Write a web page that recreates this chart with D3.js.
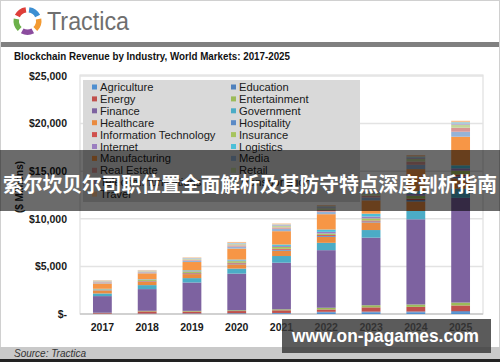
<!DOCTYPE html>
<html>
<head>
<meta charset="utf-8">
<script src="https://cdnjs.cloudflare.com/ajax/libs/d3/7.8.5/d3.min.js"></script>
<style>
	body { margin: 0; background: #fff; }
	svg { display: block; font-family: "Liberation Sans", Arial, sans-serif; }
</style>
</head>
<body>
<svg id="chart" width="500" height="362"></svg>
<script>
var years = ["2017", "2018", "2019", "2020", "2021", "2022", "2023", "2024", "2025"];

var industries = ["Agriculture", "Education", "Energy", "Entertainment", "Finance", "Government",
	"Healthcare", "Hospitality", "Information Technology", "Insurance", "Internet", "Logistics",
	"Manufacturing", "Media", "Real Estate", "Retail", "Telecommunications", "Transportation", "Travel"];

var industryColors = ["#4f8fd0", "#4f81bd", "#c0504d", "#9bbb59", "#7d62a0", "#4bacc6",
	"#ea8b40", "#5b8ac6", "#d0504d", "#a6c45e", "#9b7ec0", "#4cc0d8",
	"#f79646", "#95b3d7", "#d99694", "#c3d69b", "#b3a2c7", "#93cddd", "#fac090"];

// revenue, $ millions, 2017..2025
var agriculture   = [20, 30, 40, 50, 70, 150, 160, 170, 200];
var education     = [10, 15, 20, 30, 40, 80, 90, 90, 100];
var energy        = [70, 230, 200, 230, 280, 250, 450, 490, 600];
var entertainment = [30, 60, 70, 80, 100, 175, 220, 250, 300];
var finance       = [1750, 2280, 2980, 3850, 4900, 6050, 7100, 8950, 11000];
var government    = [280, 420, 460, 530, 700, 770, 800, 870, 950];
var healthcare    = [280, 350, 420, 450, 560, 630, 800, 1000, 1100];
var hospitality   = [30, 40, 60, 80, 100, 100, 100, 150, 200];
var infoTech      = [30, 40, 60, 80, 100, 100, 100, 150, 200];
var insurance     = [80, 100, 150, 170, 200, 150, 220, 300, 400];
var internet      = [30, 30, 50, 70, 100, 175, 200, 200, 250];
var logistics     = [40, 50, 80, 100, 150, 245, 300, 300, 320];
var manufacturing = [560, 630, 870, 1150, 1400, 1610, 1400, 2300, 3000];
var media         = [100, 100, 150, 200, 250, 245, 300, 450, 525];
var realEstate    = [70, 70, 100, 140, 150, 200, 200, 350, 420];
var retail        = [60, 60, 90, 120, 150, 180, 180, 280, 315];
var telecom       = [40, 40, 50, 70, 80, 100, 100, 120, 120];
var transport     = [30, 30, 40, 60, 80, 100, 100, 120, 150];
var travel        = [50, 50, 60, 110, 100, 120, 120, 150, 150];

var seriesValues = [agriculture, education, energy, entertainment, finance, government,
	healthcare, hospitality, infoTech, insurance, internet, logistics,
	manufacturing, media, realEstate, retail, telecom, transport, travel];

var yTicks = [0, 5000, 10000, 15000, 20000, 25000];

var svg = d3.select("#chart");

function translate(x, y)
{
	return "translate(" + x + "," + y + ")";
}

// frame
svg.append("rect")
	.attr("x", 0.5).attr("y", 0.5)
	.attr("width", 499).attr("height", 361)
	.attr("fill", "#fff")
	.attr("stroke", "#d0d0d0");

// logo
var logoColors = ["#3d8fd2", "#f39a32", "#8b4c9e", "#6cb04a", "#de3f3a"];
var arc = d3.arc().innerRadius(8.5).outerRadius(14);
svg.append("g")
	.attr("transform", translate(27.5, 21))
	.selectAll("path")
	.data(logoColors)
	.enter().append("path")
		.attr("d", function(d, i){
			var a0 = (36 + i * 72 - 28) * Math.PI / 180;
			return arc({startAngle: a0, endAngle: a0 + 56 * Math.PI / 180});
		})
		.attr("fill", function(d){return d;});

svg.append("text")
	.attr("x", 47).attr("y", 30)
	.attr("font-size", 25)
	.attr("fill", "#6f6f6f")
	.attr("textLength", 82)
	.attr("lengthAdjust", "spacingAndGlyphs")
	.text("Tractica");

svg.append("rect")
	.attr("x", 1).attr("y", 42)
	.attr("width", 498).attr("height", 5)
	.attr("fill", "#808080");

svg.append("text")
	.attr("x", 14).attr("y", 60)
	.attr("font-size", 11)
	.attr("font-weight", "bold")
	.attr("fill", "#111")
	.attr("textLength", 276)
	.attr("lengthAdjust", "spacingAndGlyphs")
	.text("Blockchain Revenue by Industry, World Markets: 2017-2025");

// plot
var plot = {left: 80, right: 483, top: 76, bottom: 314};

var x = d3.scaleBand()
	.domain(years)
	.range([plot.left, plot.right])
	.paddingInner(0.58)
	.paddingOuter(0.29);

var y = d3.scaleLinear()
	.domain([0, 25000])
	.range([plot.bottom, plot.top]);

var table = years.map(function(yr, j){
	var row = {year: yr};
	industries.forEach(function(name, i){ row[name] = seriesValues[i][j]; });
	return row;
});

var stacks = d3.stack().keys(industries)(table);

svg.append("rect")
	.attr("x", plot.left).attr("y", plot.top - 1)
	.attr("width", plot.right - plot.left)
	.attr("height", plot.bottom - plot.top + 1)
	.attr("fill", "none")
	.attr("stroke", "#d9d9d9");

svg.append("g").selectAll("line")
	.data(yTicks)
	.enter().append("line")
		.attr("x1", plot.left).attr("x2", plot.right)
		.attr("y1", function(d){return y(d);})
		.attr("y2", function(d){return y(d);})
		.attr("stroke", function(d){return d === 0 ? "#c8c8c8" : "#e3e3e3";})
		.attr("stroke-width", 1.5);

var color = d3.scaleOrdinal().domain(industries).range(industryColors);

svg.append("g").selectAll("g")
	.data(stacks)
	.enter().append("g")
		.attr("fill", function(d){return color(d.key);})
	.selectAll("rect")
	.data(function(d){return d;})
	.enter().append("rect")
		.attr("x", function(d){return x(d.data.year);})
		.attr("width", x.bandwidth())
		.attr("y", function(d){return y(d[1]);})
		.attr("height", function(d){return y(d[0]) - y(d[1]);});

// axes
var yAxis = svg.append("g")
	.attr("transform", translate(plot.left, 0))
	.call(d3.axisLeft(y).tickValues(yTicks).tickSize(0).tickPadding(13)
		.tickFormat(function(d){return d === 0 ? "$-" : "$" + d3.format(",")(d);}));
var xAxis = svg.append("g")
	.attr("transform", translate(0, plot.bottom))
	.call(d3.axisBottom(x).tickSize(0).tickPadding(9.5));

[yAxis, xAxis].forEach(function(a){
	a.select(".domain").remove();
	a.selectAll("text")
		.attr("font-family", "Liberation Sans, Arial, sans-serif")
		.attr("font-size", 10.5)
		.attr("font-weight", "bold")
		.attr("fill", "#1a1a1a");
});

svg.append("text")
	.attr("transform", translate(23, 187) + " rotate(-90)")
	.attr("text-anchor", "middle")
	.attr("font-size", 10)
	.attr("font-weight", "bold")
	.attr("fill", "#1a1a1a")
	.text("($ Millions)");

// legend
var legend = svg.append("g").attr("class", "legendParent");
legend.append("rect")
	.attr("x", 83).attr("y", 80)
	.attr("width", 277).attr("height", 122)
	.attr("fill", "#d9d9d9");

var item = legend.selectAll(".item")
	.data(industries)
	.enter().append("g")
		.attr("class", "item")
		.attr("transform", function(d, i){
			return translate(i % 2 === 0 ? 92 : 231, 87 + Math.floor(i / 2) * 11.9);
		});

item.append("rect")
	.attr("x", 0).attr("y", -2.5)
	.attr("width", 5).attr("height", 5)
	.attr("fill", color);

item.append("text")
	.attr("x", 8)
	.attr("dy", "0.36em")
	.attr("font-size", 11.2)
	.attr("fill", "#1a1a1a")
	.text(function(d){return d;});

// source strip
svg.append("rect")
	.attr("x", 0).attr("y", 347)
	.attr("width", 500).attr("height", 12)
	.attr("fill", "#c9c9c9");
svg.append("rect")
	.attr("x", 0).attr("y", 359)
	.attr("width", 500).attr("height", 3)
	.attr("fill", "#222");
svg.append("text")
	.attr("x", 14).attr("y", 357)
	.attr("font-size", 10)
	.attr("font-style", "italic")
	.attr("fill", "#333")
	.text("Source: Tractica");

// overlays
svg.append("rect")
	.attr("x", 0).attr("y", 150)
	.attr("width", 500).attr("height", 61)
	.attr("fill", "rgba(0,0,0,0.58)");
svg.append("text")
	.attr("x", 250).attr("y", 183)
	.attr("text-anchor", "middle")
	.attr("dominant-baseline", "central")
	.attr("font-family", "Noto Sans CJK SC, sans-serif")
	.attr("font-size", 20)
	.attr("font-weight", "bold")
	.attr("fill", "#fff")
	.attr("textLength", 494)
	.attr("lengthAdjust", "spacingAndGlyphs")
	.text("索尔坎贝尔司职位置全面解析及其防守特点深度剖析指南");

svg.append("rect")
	.attr("x", 282).attr("y", 319)
	.attr("width", 209).attr("height", 34)
	.attr("fill", "rgba(55,55,55,0.82)");
svg.append("text")
	.attr("x", 385.5).attr("y", 342)
	.attr("text-anchor", "middle")
	.attr("font-size", 19)
	.attr("font-weight", "bold")
	.attr("fill", "#fff")
	.attr("textLength", 187)
	.attr("lengthAdjust", "spacingAndGlyphs")
	.text("www.on-pagames.com");
</script>
</body>
</html>
